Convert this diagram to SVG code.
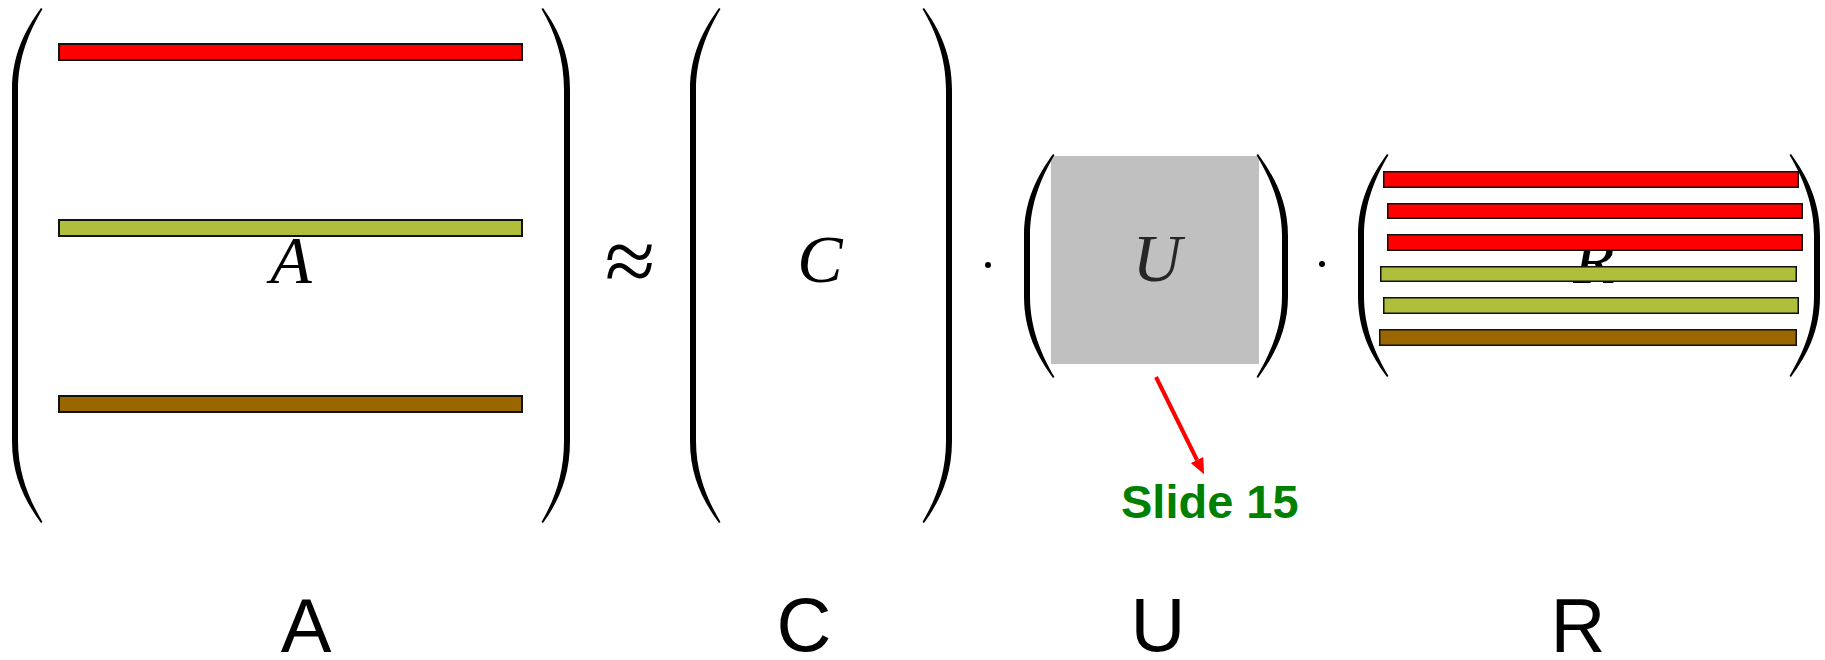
<svg xmlns="http://www.w3.org/2000/svg" width="1825" height="660" viewBox="0 0 1825 660">
<style>
.paren{fill:#000}
.bar{stroke:#111;stroke-width:1.5}
.bar2{stroke:#111;stroke-width:2}
.red{fill:#FF0000}
.olive{fill:#AFBF3B}
.brown{fill:#996600}
.math{font-family:"Liberation Serif","Times New Roman",serif;font-style:italic;font-size:68px;text-anchor:middle;fill:#000}
.op{font-family:"Liberation Serif","DejaVu Serif",serif;text-anchor:middle;fill:#000}
.label{font-family:"Liberation Sans",Arial,sans-serif;font-size:76px;text-anchor:middle;fill:#000}
.note{font-family:"Liberation Sans",Arial,sans-serif;font-weight:bold;font-size:47px;fill:#008000}
.arrow{stroke:#FF0000;stroke-width:4;fill:none}
</style>
<defs>
<marker id="head" viewBox="0 0 16 14" refX="0" refY="7" markerWidth="16" markerHeight="14" markerUnits="userSpaceOnUse" orient="auto">
<path d="M0,0 L16,7 L0,14 Z" fill="#FF0000"/>
</marker>
</defs>
<rect width="1825" height="660" fill="#FFFFFF"/>

<g id="matrix-A">
<path class="paren" d="M41,8 C25,30 12,55 12,90 L12,441 C12,476 25,501 41,523 L42.5,522 C29,499 18,473 18,441 L18,90 C18,58 29,32 42.5,9 Z"/>
<path class="paren" d="M543,8 C559,30 570,55 570,90 L570,441 C570,476 559,501 543,523 L541.5,522 C555,499 564,473 564,441 L564,90 C564,58 555,32 541.5,9 Z"/>
<rect class="bar2 red" x="59" y="44" width="463" height="16"/>
<rect class="bar2 olive" x="59" y="220" width="463" height="16"/>
<rect class="bar2 brown" x="59" y="396" width="463" height="16"/>
<text class="math" x="291" y="283">A</text>
</g>

<g id="approx">
<text class="op" x="630" y="292" font-size="92">≈</text>
</g>

<g id="matrix-C">
<path class="paren" d="M719,8 C703,30 690,55 690,90 L690,441 C690,476 703,501 719,523 L720.5,522 C707,499 696,473 696,441 L696,90 C696,58 707,32 720.5,9 Z"/>
<path class="paren" d="M924,8 C940,30 952,55 952,90 L952,441 C952,476 940,501 924,523 L922.5,522 C936,499 946,473 946,441 L946,90 C946,58 936,32 922.5,9 Z"/>
<text class="math" x="820" y="282">C</text>
</g>

<g id="dot-1">
<circle cx="988" cy="265" r="3" fill="#000"/>
</g>

<g id="matrix-U">
<rect x="1051" y="156" width="208" height="208" fill="#C0C0C0"/>
<path class="paren" d="M1053,154 C1037,176 1024,201 1024,236 L1024,296 C1024,331 1037,356 1053,378 L1054.5,377 C1041,354 1030,328 1030,296 L1030,236 C1030,204 1041,178 1054.5,155 Z"/>
<path class="paren" d="M1258,154 C1274,176 1288,201 1288,236 L1288,296 C1288,331 1274,356 1258,378 L1256.5,377 C1270,354 1282,328 1282,296 L1282,236 C1282,204 1270,178 1256.5,155 Z"/>
<text class="math" x="1157" y="281" style="fill:#262626">U</text>
</g>

<g id="dot-2">
<circle cx="1322" cy="264" r="3" fill="#000"/>
</g>

<g id="matrix-R">
<path class="paren" d="M1387,154 C1371,176 1358,201 1358,236 L1358,296 C1358,331 1371,355 1387,377 L1388.5,376 C1375,353 1364,328 1364,296 L1364,236 C1364,204 1375,178 1388.5,155 Z"/>
<path class="paren" d="M1791,154 C1807,176 1820,201 1820,236 L1820,296 C1820,331 1807,355 1791,377 L1789.5,376 C1803,353 1814,328 1814,296 L1814,236 C1814,204 1803,178 1789.5,155 Z"/>
<text class="math" x="1594" y="283">R</text>
<rect class="bar red" x="1383.75" y="171.75" width="414.5" height="15.5"/>
<rect class="bar red" x="1387.75" y="203.75" width="414.5" height="14.5"/>
<rect class="bar red" x="1387.75" y="234.75" width="414.5" height="15.5"/>
<rect class="bar olive" x="1380.75" y="266.75" width="415.5" height="14.5"/>
<rect class="bar olive" x="1383.75" y="297.75" width="414.5" height="15.5"/>
<rect class="bar brown" x="1379.75" y="329.75" width="416.5" height="15.5"/>
</g>

<g id="connectors">
<line class="arrow" x1="1156" y1="377" x2="1197" y2="460" marker-end="url(#head)"/>
</g>

<g id="note-slide15">
<text class="note" x="1121" y="518">Slide 15</text>
</g>

<g id="labels">
<text class="label" x="306" y="652">A</text>
<text class="label" x="804" y="651">C</text>
<text class="label" x="1158" y="651">U</text>
<text class="label" x="1578" y="652">R</text>
</g>
</svg>
